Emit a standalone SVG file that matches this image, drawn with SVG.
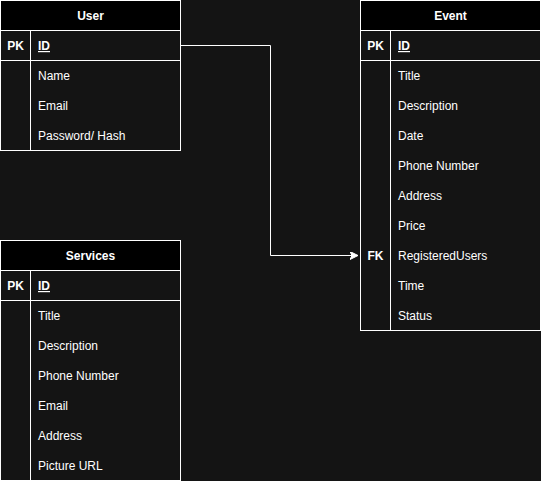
<svg xmlns="http://www.w3.org/2000/svg" width="541" height="481" viewBox="0 0 541 481">
<style>
.bg{fill:#141414}
.hd{fill:#000000;stroke:#ffffff;stroke-width:1}
.box{fill:none;stroke:#ffffff;stroke-width:1}
.ln{stroke:#ffffff;stroke-width:1;fill:none}
text{font-family:"Liberation Sans",Arial,sans-serif;font-size:12px;fill:#ffffff}
.t{font-weight:bold;text-anchor:middle}
.k{font-weight:bold;text-anchor:middle}
.u{text-decoration:underline;font-weight:bold}
</style>
<defs>
<marker id="arr" markerWidth="10" markerHeight="10" refX="8" refY="4" orient="auto" markerUnits="userSpaceOnUse">
<path d="M0,0 L8,4 L0,8 L2,4 Z" fill="#ffffff" stroke="#ffffff" stroke-width="1"/>
</marker>
</defs>
<rect class="bg" x="0" y="0" width="541" height="481"/>
<g id="connectors">
<path class="ln" d="M180.5,45.5 H270.5 V255.5 H358" marker-end="url(#arr)"/>
</g>
<g id="user">
<rect class="hd" x="0.5" y="0.5" width="180" height="30"/>
<rect class="box" x="0.5" y="30.5" width="180" height="120"/>
<line class="ln" x1="0.5" y1="60.5" x2="180.5" y2="60.5"/>
<line class="ln" x1="30.5" y1="30.5" x2="30.5" y2="150.5"/>
<text class="t" x="90.5" y="20">User</text>
<text class="k" x="15.5" y="50">PK</text>
<text class="u" x="38" y="50">ID</text>
<text x="38" y="80">Name</text>
<text x="38" y="110">Email</text>
<text x="38" y="140">Password/ Hash</text>
</g>
<g id="event">
<rect class="hd" x="360.5" y="0.5" width="180" height="30"/>
<rect class="box" x="360.5" y="30.5" width="180" height="300"/>
<line class="ln" x1="360.5" y1="60.5" x2="540.5" y2="60.5"/>
<line class="ln" x1="390.5" y1="30.5" x2="390.5" y2="330.5"/>
<text class="t" x="450.5" y="20">Event</text>
<text class="k" x="375.5" y="50">PK</text>
<text class="u" x="398" y="50">ID</text>
<text x="398" y="80">Title</text>
<text x="398" y="110">Description</text>
<text x="398" y="140">Date</text>
<text x="398" y="170">Phone Number</text>
<text x="398" y="200">Address</text>
<text x="398" y="230">Price</text>
<text class="k" x="375.5" y="260">FK</text>
<text x="398" y="260">RegisteredUsers</text>
<text x="398" y="290">Time</text>
<text x="398" y="320">Status</text>
</g>
<g id="services">
<rect class="hd" x="0.5" y="240.5" width="180" height="30"/>
<rect class="box" x="0.5" y="270.5" width="180" height="210"/>
<line class="ln" x1="0.5" y1="300.5" x2="180.5" y2="300.5"/>
<line class="ln" x1="30.5" y1="270.5" x2="30.5" y2="480.5"/>
<text class="t" x="90.5" y="260">Services</text>
<text class="k" x="15.5" y="290">PK</text>
<text class="u" x="38" y="290">ID</text>
<text x="38" y="320">Title</text>
<text x="38" y="350">Description</text>
<text x="38" y="380">Phone Number</text>
<text x="38" y="410">Email</text>
<text x="38" y="440">Address</text>
<text x="38" y="470">Picture URL</text>
</g>
</svg>
